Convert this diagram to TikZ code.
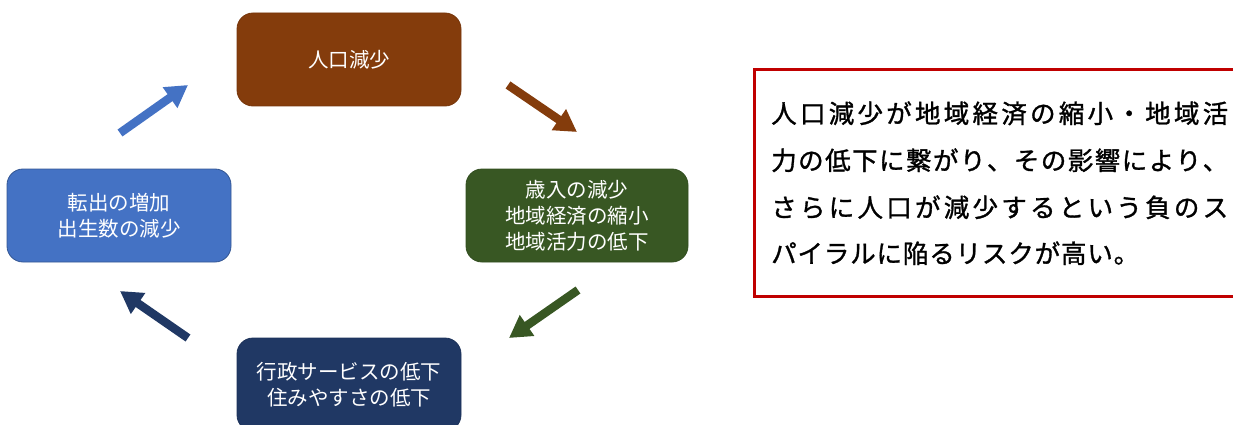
\documentclass[tikz,border=0pt]{standalone}
\usepackage{fontspec}
\setmainfont{Noto Sans CJK JP}
\newfontfamily\notefont[FakeBold=1.2]{Noto Sans CJK JP}
\usetikzlibrary{arrows.meta}
\definecolor{cbrown}{HTML}{843C0C}
\definecolor{cgreen}{HTML}{385723}
\definecolor{cblue}{HTML}{4472C4}
\definecolor{cnavy}{HTML}{203864}
\definecolor{cred}{HTML}{C00000}
\makeatletter
\def\spr@end{\spr@end}
\def\spr@loop#1{\ifx#1\spr@end\else#1\hfill\expandafter\spr@loop\fi}
\newcommand\spreadto[2]{\makebox[#1][l]{\spr@loop#2\spr@end\unskip}}
\makeatother
\begin{document}
\begin{tikzpicture}[x=1pt,y=-1pt,
  box/.style={rounded corners=16pt, line width=0.8pt, minimum width=224pt, minimum height=93pt, inner sep=0pt},
  boxtext/.style={text=white, font=\fontsize{20.5}{26}\selectfont, align=center},
  blockarrow/.style={line width=8.5pt, -{Triangle[length=22pt,width=24pt]}},
  notetext/.style={anchor=base west, inner sep=0pt, font=\notefont\fontsize{25.5}{30}\selectfont}]
\useasboundingbox (0,0) rectangle (1233,425);
\clip (0,0) rectangle (1233,425);
\node[box, boxtext, fill=cbrown, draw=cbrown!90!black] (pop) at (349,59.5) {人口減少};
\node[box, boxtext, fill=cgreen, draw=cgreen!90!black, minimum width=222pt] (econ) at (577,215.5) {歳入の減少\\地域経済の縮小\\地域活力の低下};
\node[box, boxtext, fill=cnavy, draw=cnavy!90!black] (serv) at (349,384.5) {行政サービスの低下\\住みやすさの低下};
\node[box, boxtext, fill=cblue, draw=cblue!75!black] (move) at (119,215.5) {転出の増加\\出生数の減少};
\coordinate (a1s) at (508,85);  \coordinate (a1e) at (577,132);
\coordinate (a2s) at (578,290); \coordinate (a2e) at (509,338);
\coordinate (a3s) at (188,338); \coordinate (a3e) at (120,291);
\coordinate (a4s) at (120,133); \coordinate (a4e) at (188,85);
\draw[blockarrow, cbrown] (a1s) -- (a1e);
\draw[blockarrow, cgreen] (a2s) -- (a2e);
\draw[blockarrow, cnavy] (a3s) -- (a3e);
\draw[blockarrow, cblue] (a4s) -- (a4e);
\node[draw=cred, line width=3pt, minimum width=520pt, minimum height=227pt, anchor=north west, inner sep=0pt] (note) at (753,68) {};
\node[notetext] (l1) at (771,123) {\spreadto{457pt}{人口減少が地域経済の縮小・地域活}};
\node[notetext] (l2) at (771,170) {\spreadto{457pt}{力の低下に繋がり、その影響により、}};
\node[notetext] (l3) at (771,217) {\spreadto{457pt}{さらに人口が減少するという負のス}};
\node[notetext] (l4) at (771,263) {\spreadto{368pt}{パイラルに陥るリスクが高い。}};
\end{tikzpicture}
\end{document}
